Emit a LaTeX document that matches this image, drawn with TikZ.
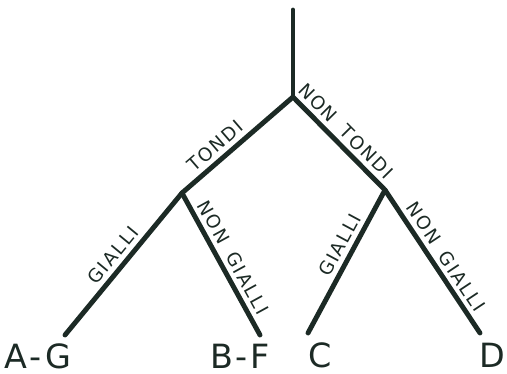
\documentclass[tikz,border=0pt]{standalone}
\usepackage{fontspec}
\setsansfont{DejaVu Sans}
\usepackage{tikz}
\usetikzlibrary{positioning}
\definecolor{Ink}{HTML}{1C2A25}

\begin{document}
\begin{tikzpicture}[
  x=0.02cm,y=-0.02cm,
  branch/.style={line width=2.8pt,draw=Ink,line cap=round},
  cut/.style={font=\sffamily\fontsize{10.5}{12}\selectfont\addfontfeature{LetterSpace=10},text=Ink,inner sep=2.5pt},
  leaf/.style={font=\sffamily\fontsize{19}{21}\selectfont\addfontfeature{LetterSpace=8},text=Ink,inner sep=0pt}
]
\useasboundingbox (0,0) rectangle (507,374);
% junctions
\coordinate (top) at (293,10);
\coordinate (root) at (293,97);
\coordinate (tondi) at (182,193);
\coordinate (ntondi) at (385,190);
% line ends
\coordinate (eAG) at (65,335);
\coordinate (eBF) at (260,335);
\coordinate (eC) at (308,333);
\coordinate (eD) at (480,333);
% leaves
\node[leaf] (AG) at (38,356) {A-G};
\node[leaf] (BF) at (240,356) {B-F};
\node[leaf] (C) at (320,355) {C};
\node[leaf] (D) at (492,355) {D};
\draw[branch] (top) -- (root);
\draw[branch] (root) -- node[cut,sloped,above,pos=0.62] (lt) {TONDI} (tondi);
\draw[branch] (root) -- node[cut,sloped,above,pos=0.47] (lnt) {NON\hspace{3pt} TONDI} (ntondi);
\draw[branch] (tondi) -- node[cut,sloped,above,pos=0.5] (lg1) {GIALLI} (eAG);
\draw[branch] (tondi) -- node[cut,sloped,above,pos=0.5] (lng1) {NON\hspace{3pt} GIALLI} (eBF);
\draw[branch] (ntondi) -- node[cut,sloped,above,pos=0.43] (lg2) {GIALLI} (eC);
\draw[branch] (ntondi) -- node[cut,sloped,above,pos=0.52] (lng2) {NON\hspace{3pt} GIALLI} (eD);
\end{tikzpicture}
\end{document}
